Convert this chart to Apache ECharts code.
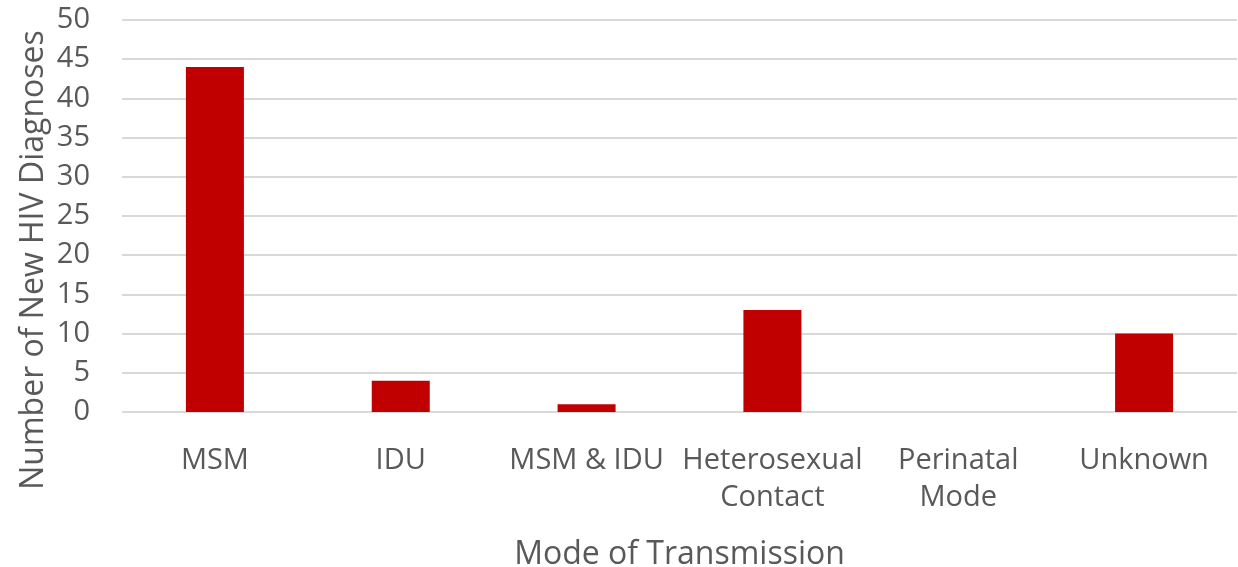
<!DOCTYPE html>
<html>
<head>
<meta charset="utf-8">
<script src="https://cdn.jsdelivr.net/npm/echarts@6/dist/echarts.min.js"></script>
<style>
html,body{margin:0;padding:0;background:#fff;}
#chart{width:1238px;height:567px;}
</style>
</head>
<body>
<div id="chart"></div>
<script>
const categories = ['MSM', 'IDU', 'MSM & IDU', 'Heterosexual\nContact', 'Perinatal\nMode', 'Unknown'];
const values = [44, 4, 1, 13, 0, 10];
const yTicks = { min: 0, max: 50, interval: 5 };
const yAxisTitle = 'Number of New HIV Diagnoses';
const xAxisTitle = 'Mode of Transmission';

const font = '"Open Sans", "Liberation Sans", sans-serif';
const textColor = '#595959';
const chart = echarts.init(document.getElementById('chart'));
chart.setOption({
  animation: false,
  grid: { left: 122, right: 1, top: 20, bottom: 155, containLabel: false, outerBoundsMode: 'none' },
  xAxis: {
    type: 'category',
    data: categories,
    name: xAxisTitle,
    nameLocation: 'middle',
    nameGap: 127,
    nameTextStyle: { fontFamily: font, fontSize: 32, color: textColor },
    axisLine: { show: false },
    axisTick: { show: false },
    axisLabel: { fontFamily: font, fontSize: 29, color: textColor, margin: 30, lineHeight: 37, interval: 0 }
  },
  yAxis: {
    type: 'value',
    min: yTicks.min, max: yTicks.max, interval: yTicks.interval,
    axisLine: { show: false },
    axisTick: { show: false },
    splitLine: { lineStyle: { color: '#d9d9d9', width: 2 } },
    axisLabel: { fontFamily: font, fontSize: 29, color: textColor, margin: 32 }
  },
  graphic: [{
    type: 'text',
    x: 34, y: 260,
    rotation: Math.PI / 2,
    style: { text: yAxisTitle, font: '32px ' + font, fill: textColor, align: 'center', verticalAlign: 'middle' }
  }],
  series: [{
    type: 'bar',
    data: values,
    barWidth: 58,
    itemStyle: { color: '#c00000' }
  }]
});
</script>
</body>
</html>
